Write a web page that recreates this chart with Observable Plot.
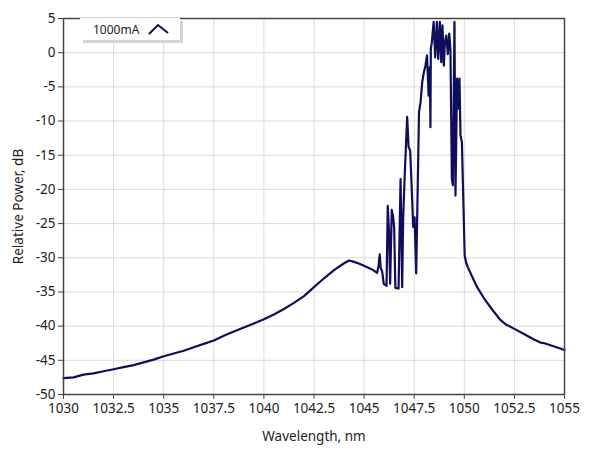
<!DOCTYPE html>
<html>
<head>
<meta charset="utf-8">
<script src="https://cdn.jsdelivr.net/npm/d3@7"></script>
<script src="https://cdn.jsdelivr.net/npm/@observablehq/plot@0.6"></script>
<style>
  html, body { margin: 0; padding: 0; background: #fff; }
  #wrap { position: relative; width: 589px; height: 456px; }
  #legend {
    position: absolute; left: 80px; top: 18px; width: 100px; height: 22px;
    background: #fff; box-shadow: 3px 3px 0 #d4d4d4;
    font: 12px "Noto Sans", sans-serif; color: #222;
  }
  #legend span { position: absolute; left: 13px; top: 3px; }
  #legend svg { position: absolute; left: 67px; top: 4px; }
</style>
</head>
<body>
<div id="wrap">
  <div id="chart"></div>
  <div id="legend"><span id="legendLabel"></span><svg width="26" height="14"><polyline points="2,12 11,3 21,11" fill="none" stroke="#0e0e5c" stroke-width="2"/></svg></div>
</div>
<script>
const seriesName = "1000mA";
const wavelength = [
  1030.0,1030.5,1031.0,1031.5,1032.0,1032.5,1033.0,1033.5,1034.0,1034.5,
  1035.0,1035.5,1036.0,1036.5,1037.0,1037.5,1038.0,1038.5,1039.0,1039.5,
  1040.0,1040.5,1041.0,1041.5,1042.0,1042.5,1043.0,1043.5,1044.0,1044.25,
  1044.5,1044.8,1045.1,1045.4,1045.65,1045.72,1045.78,1045.83,1045.9,1045.98,
  1046.12,1046.18,1046.24,1046.3,1046.38,1046.45,1046.5,1046.56,1046.72,1046.82,
  1046.9,1046.95,1047.03,1047.10,1047.15,1047.22,1047.3,1047.36,1047.45,1047.52,
  1047.6,1047.74,1047.82,1047.9,1047.98,1048.06,1048.14,1048.22,1048.28,1048.31,
  1048.33,1048.38,1048.47,1048.55,1048.63,1048.7,1048.78,1048.85,1048.91,1048.98,
  1049.03,1049.10,1049.18,1049.25,1049.31,1049.38,1049.43,1049.51,1049.56,1049.64,
  1049.69,1049.76,1049.81,1049.88,1050.02,1050.1,1050.18,1050.4,1050.64,1051.0,
  1051.4,1051.8,1052.1,1052.5,1053.0,1053.5,1053.8,1054.0,1054.3,1054.6,1055.0
];
const power = [
  -47.6,-47.5,-47.1,-46.9,-46.6,-46.3,-46.0,-45.7,-45.3,-44.9,
  -44.4,-44.0,-43.6,-43.1,-42.6,-42.1,-41.4,-40.8,-40.2,-39.6,
  -39.0,-38.3,-37.5,-36.6,-35.6,-34.3,-33.0,-31.8,-30.8,-30.4,
  -30.6,-30.9,-31.3,-31.7,-32.2,-31.2,-29.5,-31.5,-32.0,-33.8,
  -34.1,-22.4,-26.0,-33.8,-23.0,-24.0,-25.6,-34.4,-34.5,-18.5,
  -34.3,-24.1,-17.7,-12.8,-9.4,-13.8,-14.3,-18.7,-25.5,-24.1,
  -32.3,-8.7,-7.2,-4.3,-2.9,-1.9,-0.4,-6.3,-2.1,-10.9,
  0.6,1.5,4.5,-0.7,4.5,-0.9,4.5,-1.4,4.0,-1.9,
  1.5,2.5,-0.2,2.8,0.3,-18.5,-19.4,4.5,-20.9,-3.8,
  -8.2,-3.8,-12.1,-13.1,-29.7,-30.8,-31.4,-32.8,-34.3,-36.0,
  -37.6,-39.1,-39.8,-40.4,-41.2,-42.0,-42.4,-42.5,-42.8,-43.1,-43.5
];
const xTicks = [1030,1032.5,1035,1037.5,1040,1042.5,1045,1047.5,1050,1052.5,1055];
const yTicks = [5,0,-5,-10,-15,-20,-25,-30,-35,-40,-45,-50];

const data = wavelength.map((w, i) => ({w, p: power[i]}));
document.getElementById("legendLabel").textContent = seriesName;

const chart = Plot.plot({
  width: 589,
  height: 456,
  marginLeft: 63,
  marginRight: 25,
  marginTop: 18,
  marginBottom: 62,
  style: {fontFamily: "Noto Sans, sans-serif", fontSize: "13.5px", color: "#222", background: "#fff"},
  x: {domain: [1030, 1055]},
  y: {domain: [-50, 5]},
  marks: [
    Plot.gridX(xTicks, {stroke: "#dadada", strokeOpacity: 1, strokeWidth: 1}),
    Plot.gridY(yTicks, {stroke: "#dadada", strokeOpacity: 1, strokeWidth: 1}),
    Plot.line(data, {x: "w", y: "p", stroke: "#0e0e5c", strokeWidth: 2.2, strokeLinejoin: "round"}),
    Plot.frame({stroke: "#444", strokeWidth: 1.5}),
    Plot.axisX({ticks: xTicks, tickFormat: d => String(d), tickSize: 5, tickPadding: 4, fontSize: 13.5, label: "Wavelength, nm", labelAnchor: "center", labelOffset: 46, labelArrow: "none", stroke: "#444"}),
    Plot.axisY({ticks: yTicks, tickFormat: d => String(d), tickSize: 5, tickPadding: 3, fontSize: 13.5, label: "Relative Power, dB", labelAnchor: "center", labelOffset: 50, labelArrow: "none", stroke: "#444"})
  ]
});
document.getElementById("chart").appendChild(chart);
</script>
</body>
</html>
